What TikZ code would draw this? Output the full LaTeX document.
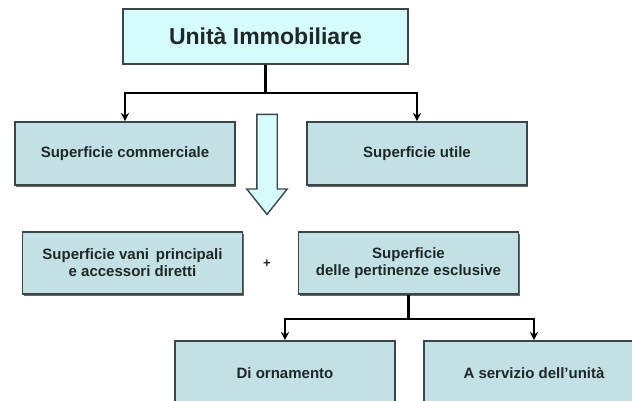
\documentclass[tikz,border=0pt]{standalone}
\usepackage{fontspec}
\setmainfont{Liberation Sans}
\usetikzlibrary{shapes.arrows,shadows}

\definecolor{cianochiaro}{HTML}{D6FBFD}
\definecolor{azzurrogrigio}{HTML}{C3E1E5}
\definecolor{bordo}{HTML}{3C4646}
\definecolor{testo}{HTML}{1E2828}

\tikzset{
	casella/.style={draw=bordo, line width=1.8pt, fill=azzurrogrigio, text=testo,
		inner sep=0pt, align=center, font=\bfseries\fontsize{15}{17}\selectfont,
		minimum width=220pt, minimum height=62pt,
		drop shadow={shadow xshift=1.2pt, shadow yshift=-1.5pt, fill=bordo!80, opacity=1}},
	collega/.style={->, >=stealth, line width=2.6pt}
}

\begin{document}
\begin{tikzpicture}[x=1pt, y=-1pt]
	
		\useasboundingbox (0, 0) rectangle (632, 401);
		\clip (0, 0) rectangle (632, 401);
		
		% Primo livello
		
		\draw node[casella, fill=cianochiaro, minimum width=285pt, minimum height=55pt,
			font=\bfseries\fontsize{23}{26}\selectfont] (noUnita) at (265.5, 36.5) {Unità Immobiliare} ;
		
		\draw node[casella, minimum height=63pt] (noComm) at (125., 153.5) {Superficie commerciale} ;
		
		\draw node[casella, minimum height=63pt] (noUtile) at (417., 153.5) {Superficie utile} ;
		
		\coordinate (ramo1) at (265.5, 93.);
		
		\draw[line width=2.6pt] (noUnita.south) -- (ramo1);
		
		\draw[collega] (ramo1) -| (noComm.north);
		
		\draw[collega] (ramo1) -| (noUtile.north);
		
		% Freccia vuota
		
		\draw node[single arrow, draw=bordo, line width=1.4pt, fill=cianochiaro, shape border rotate=270,
			minimum height=100pt, inner sep=9.5pt, single arrow head extend=10pt,
			single arrow tip angle=77] (noGiu) at (267., 158.) {} ;
		
		% Secondo livello
		
		\draw node[casella] (noVani) at (132.5, 263.) {Superficie vani\, principali\\e accessori diretti} ;
		
		\draw node[text=testo, font=\bfseries\fontsize{13}{15}\selectfont] (noPiu) at (267., 264.) {+} ;
		
		\draw node[casella] (noPert) at (408.5, 263.) {Superficie\\delle pertinenze esclusive} ;
		
		\draw node[casella, minimum height=64pt] (noOrn) at (285., 373.) {Di ornamento} ;
		
		\draw node[casella, minimum height=64pt] (noServ) at (534., 373.) {A servizio dell'unità} ;
		
		\coordinate (ramo2) at (408.5, 319.);
		
		\draw[line width=2.6pt] (noPert.south) -- (ramo2);
		
		\draw[collega] (ramo2) -| (noOrn.north);
		
		\draw[collega] (ramo2) -| (noServ.north);
		
	\end{tikzpicture}
\end{document}
